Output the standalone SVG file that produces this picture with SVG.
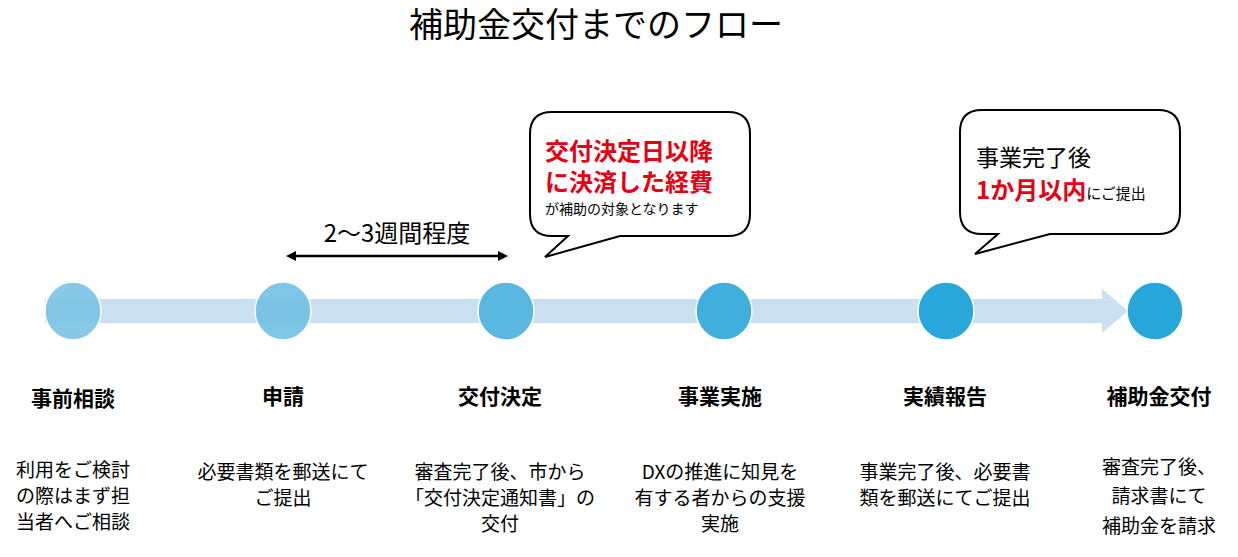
<svg xmlns="http://www.w3.org/2000/svg" width="1238" height="557" viewBox="0 0 1238 557">
<style>
text{font-family:"Noto Sans CJK JP","Noto Sans",sans-serif;fill:#000}
.t{font-size:21px;font-weight:bold;text-anchor:middle}
.d{font-size:19px;text-anchor:middle}
.r{fill:#e60012;font-weight:bold}
.c{stroke:#fff;stroke-width:1.5}
</style>
<rect width="1238" height="557" fill="#fff"/>
<text x="596" y="37" font-size="34" text-anchor="middle">補助金交付までのフロー</text>
<g id="connectors">
<path d="M45 299 H1102 V289 L1128 311 L1102 333 V323 H45 Z" fill="#cadff0"/>
<line x1="294" y1="256" x2="500" y2="256" stroke="#000" stroke-width="2.5"/>
<path d="M286 256 L296 251 V261 Z M508 256 L498 251 V261 Z" fill="#000"/>
<text x="397" y="242" font-size="24" text-anchor="middle">2～3週間程度</text>
</g>
<g id="callout1">
<path d="M552 112 H728 Q750 112 750 134 V214 Q750 236 728 236 H620 L545 257 L568 236 H552 Q530 236 530 214 V134 Q530 112 552 112 Z" fill="#fff" stroke="#000" stroke-width="2"/>
<text x="545" y="160" font-size="24" class="r">交付決定日以降</text>
<text x="545" y="191" font-size="24" class="r">に決済した経費</text>
<text x="545" y="214" font-size="14">が補助の対象となります</text>
</g>
<g id="callout2">
<path d="M982 110 H1158 Q1180 110 1180 132 V212 Q1180 234 1158 234 H1050 L975 254 L998 234 H982 Q960 234 960 212 V132 Q960 110 982 110 Z" fill="#fff" stroke="#000" stroke-width="2"/>
<text x="976" y="166" font-size="23">事業完了後</text>
<text x="976" y="199"><tspan font-size="24" class="r">1か月以内</tspan><tspan font-size="15">にご提出</tspan></text>
</g>
<g id="n1"><ellipse class="c" cx="73" cy="311" rx="28" ry="29" fill="#7cc4e6" opacity="0.9"/>
<text class="t" x="73" y="406">事前相談</text>
<text class="d" x="73" y="477">利用をご検討</text><text class="d" x="73" y="503">の際はまず担</text><text class="d" x="73" y="529">当者へご相談</text></g>
<g id="n2"><ellipse class="c" cx="283" cy="311" rx="28" ry="29" fill="#72c0e4" opacity="0.9"/>
<text class="t" x="283" y="404">申請</text>
<text class="d" x="283" y="479">必要書類を郵送にて</text><text class="d" x="283" y="505">ご提出</text></g>
<g id="n3"><ellipse class="c" cx="506" cy="311" rx="28" ry="29" fill="#5ab7e0"/>
<text class="t" x="500" y="404">交付決定</text>
<text class="d" x="500" y="479">審査完了後、市から</text><text class="d" x="500" y="505">「交付決定通知書」の</text><text class="d" x="500" y="531">交付</text></g>
<g id="n4"><ellipse class="c" cx="724" cy="311" rx="28" ry="29" fill="#41afdd"/>
<text class="t" x="720" y="404">事業実施</text>
<text class="d" x="720" y="479">DXの推進に知見を</text><text class="d" x="720" y="505">有する者からの支援</text><text class="d" x="720" y="531">実施</text></g>
<g id="n5"><ellipse class="c" cx="946" cy="311" rx="28" ry="29" fill="#2aa7da"/>
<text class="t" x="945" y="404">実績報告</text>
<text class="d" x="945" y="479">事業完了後、必要書</text><text class="d" x="945" y="505">類を郵送にてご提出</text></g>
<g id="n6"><ellipse class="c" cx="1155" cy="311" rx="28" ry="29" fill="#27a6da"/>
<text class="t" x="1159" y="404">補助金交付</text>
<text class="d" x="1159" y="474">審査完了後、</text><text class="d" x="1159" y="503">請求書にて</text><text class="d" x="1159" y="533">補助金を請求</text></g>
</svg>
